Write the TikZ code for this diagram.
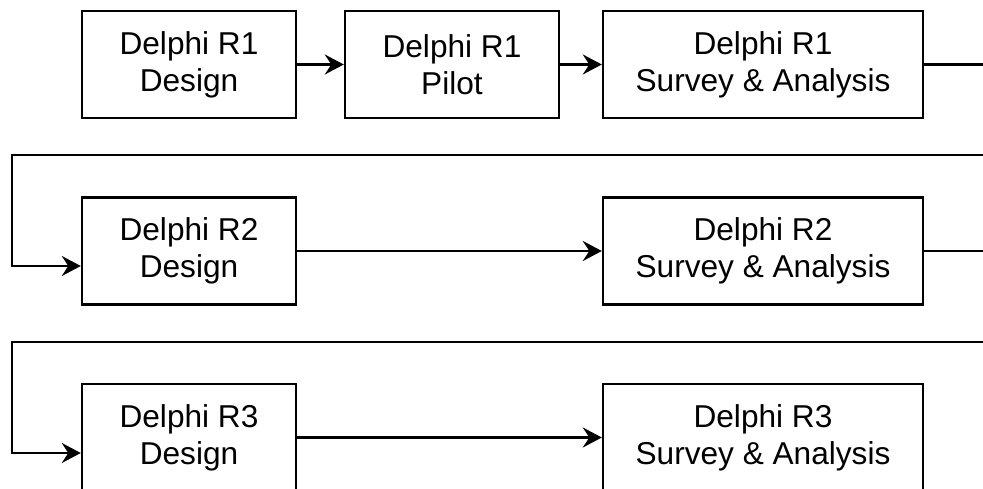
\documentclass[tikz,border=0pt]{standalone}
\usepackage{fontspec}
\setmainfont{Liberation Sans}
\usetikzlibrary{arrows.meta}

\begin{document}
\begin{tikzpicture}[x=0.02cm, y=-0.02cm, line width=1.4pt,
  stage/.style={draw, align=center, inner sep=0pt, minimum width=4.28cm,
                minimum height=2.14cm, font=\fontsize{18}{21}\selectfont},
  widestage/.style={stage, minimum width=6.4cm},
  flow/.style={-{Stealth[length=0.38cm, width=0.4cm, inset=0.13cm]}}]

  \clip (0, 0) rectangle (983, 489);

  % round 1
  \node[stage]     (r1design) at (189, 64.5) {Delphi R1\\Design};
  \node[stage]     (r1pilot)  at (452, 64.5) {Delphi R1\\Pilot};
  \node[widestage] (r1survey) at (763, 64.5) {Delphi R1\\Survey \& Analysis};

  % round 2
  \node[stage]     (r2design) at (189, 251) {Delphi R2\\Design};
  \node[widestage] (r2survey) at (763, 251) {Delphi R2\\Survey \& Analysis};

  % round 3
  \node[stage]     (r3design) at (189, 437.5) {Delphi R3\\Design};
  \node[widestage] (r3survey) at (763, 437.5) {Delphi R3\\Survey \& Analysis};

  \coordinate (fold1) at (12, 155);
  \coordinate (fold2) at (12, 342);

  \draw[flow] (r1design) -- (r1pilot);
  \draw[flow] (r1pilot) -- (r1survey);
  \draw[flow] (r1survey.east) -- ++(80, 0) |- (fold1) |- ([yshift=-0.3cm]r2design.west);

  \draw[flow] (r2design) -- (r2survey);
  \draw[flow] (r2survey.east) -- ++(80, 0) |- (fold2) |- ([yshift=-0.31cm]r3design.west);

  \draw[flow] (r3design) -- (r3survey);

\end{tikzpicture}
\end{document}
